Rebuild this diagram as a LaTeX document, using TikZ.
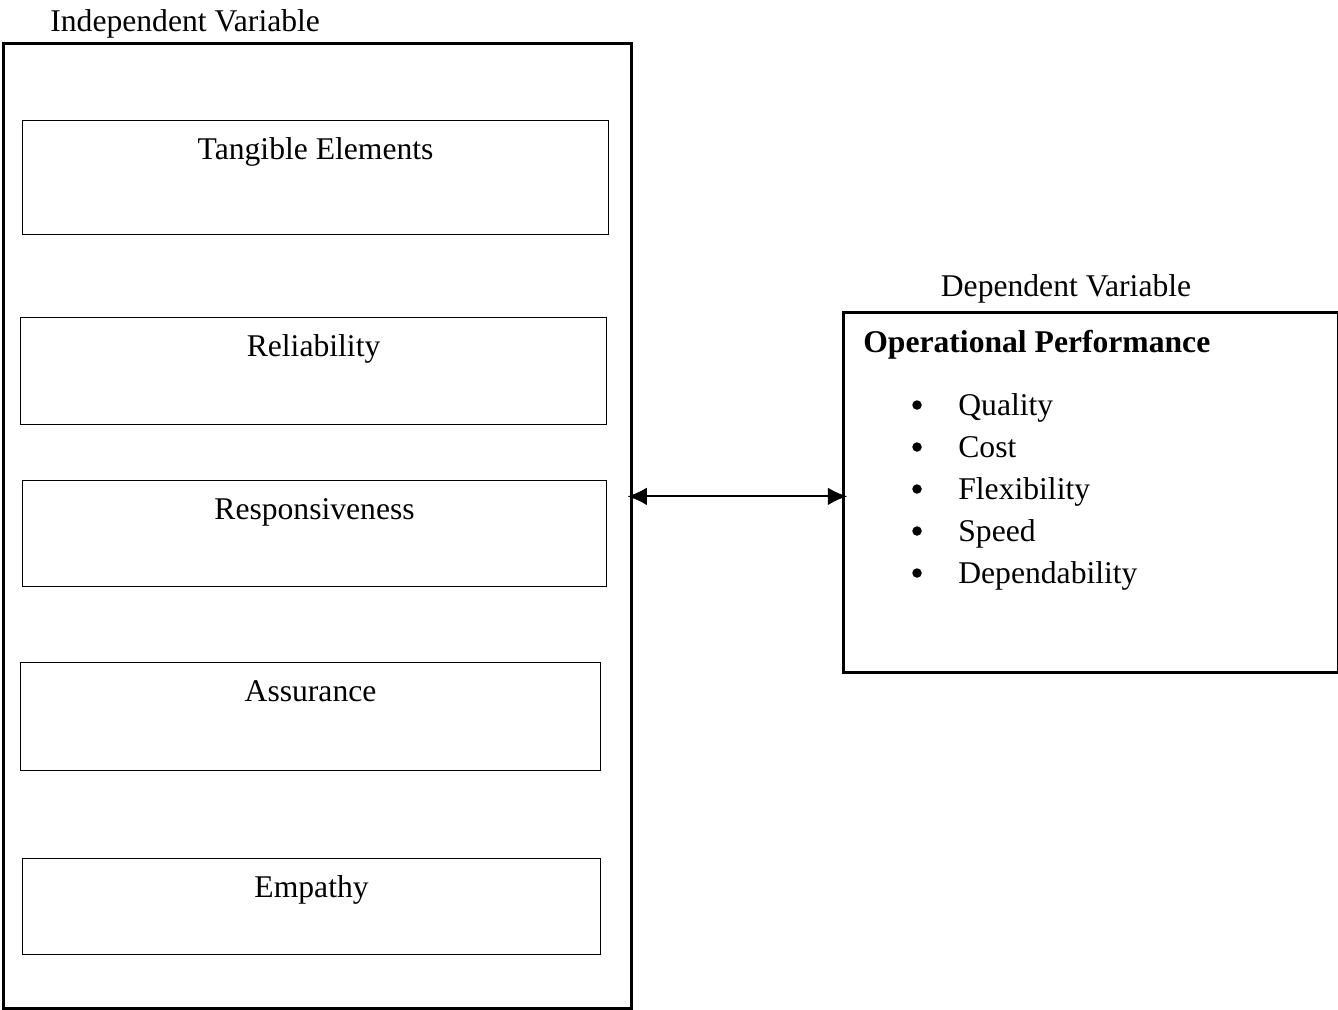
\documentclass[tikz,border=0pt]{standalone}
\usepackage{fontspec}
\setmainfont{Liberation Serif}
\usetikzlibrary{arrows.meta}

\begin{document}
\begin{tikzpicture}[x=0.02cm,y=-0.02cm,
  every node/.style={font=\fontsize{18}{22}\selectfont, inner sep=0pt},
  bigbox/.style={rectangle, draw, line width=1.6pt, anchor=north west},
  varbox/.style={rectangle, draw, line width=0.7pt, anchor=north west},
  boxtext/.style={anchor=base, yshift=-0.78cm},
  dot/.style={circle, fill, minimum size=0.19cm}]
\useasboundingbox (0,0) rectangle (1338,1009);
\path (2,42) node[bigbox, minimum width=12.56cm, minimum height=19.3cm](ind) {}
(50,31) node[anchor=base west](indlab) {Independent Variable}
(22,120) node[varbox, minimum width=11.72cm, minimum height=2.28cm](tang) {}
(20,317) node[varbox, minimum width=11.72cm, minimum height=2.14cm](reli) {}
(22,480) node[varbox, minimum width=11.68cm, minimum height=2.12cm](resp) {}
(20,662) node[varbox, minimum width=11.6cm, minimum height=2.16cm](assu) {}
(22,858) node[varbox, minimum width=11.56cm, minimum height=1.92cm](empa) {};
\path (tang.north) node[boxtext](tangtxt) {Tangible Elements}
(reli.north) node[boxtext](relitxt) {Reliability}
(resp.north) node[boxtext](resptxt) {Responsiveness}
(assu.north) node[boxtext](assutxt) {Assurance}
(empa.north) node[boxtext](empatxt) {Empathy};
\path (842,311) node[bigbox, minimum width=9.9cm, minimum height=7.2cm](perf) {}
(1066,296) node[anchor=base](deplab) {Dependent Variable}
(863,352) node[anchor=base west](perftitle) {\textbf{Operational Performance}}
(917,405) node[dot](b1) {}
(958,415) node[anchor=base west](qual) {Quality}
(917,447) node[dot](b2) {}
(958,457) node[anchor=base west](cost) {Cost}
(917,489) node[dot](b3) {}
(958,499) node[anchor=base west](flex) {Flexibility}
(917,531) node[dot](b4) {}
(958,541) node[anchor=base west](speed) {Speed}
(917,573) node[dot](b5) {}
(958,583) node[anchor=base west](depe) {Dependability};
\coordinate (pin) at ([yshift=-0.08cm]perf.west);
%\draw[->] (ind) -- (perf);
\draw[{Latex[length=11pt,width=10pt]}-{Latex[length=11pt,width=10pt]}, line width=1.1pt, shorten <=-3pt, shorten >=-3pt] (ind.east |- pin) -- (pin);
\end{tikzpicture}
\end{document}
